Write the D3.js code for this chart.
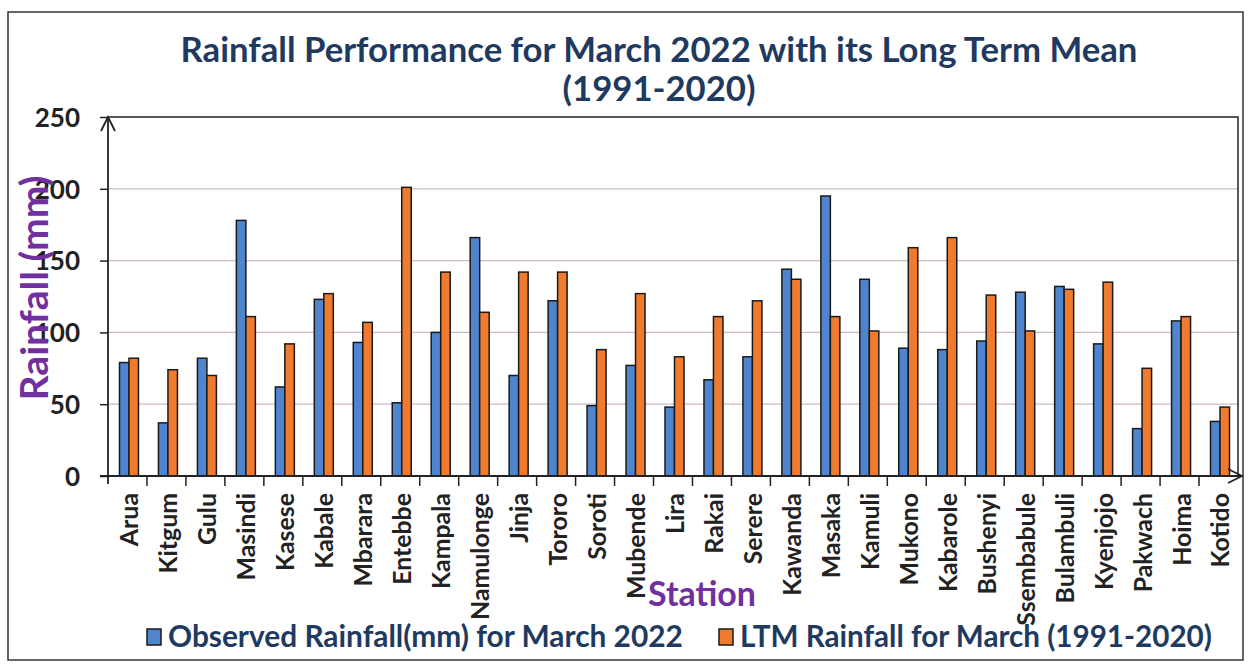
<!DOCTYPE html>
<html><head><meta charset="utf-8">
<script src="https://cdn.jsdelivr.net/npm/d3@7"></script>
<style>body{margin:0;background:#fff}svg{display:block}</style>
</head><body>
<svg id="c" width="1249" height="667"></svg>
<script>
const stations = ["Arua","Kitgum","Gulu","Masindi","Kasese","Kabale","Mbarara","Entebbe","Kampala","Namulonge","Jinja","Tororo","Soroti","Mubende","Lira","Rakai","Serere","Kawanda","Masaka","Kamuli","Mukono","Kabarole","Bushenyi","Ssembabule","Bulambuli","Kyenjojo","Pakwach","Hoima","Kotido"];
const observed = [79,37,82,178,62,123,93,51,100,166,70,122,49,77,48,67,83,144,195,137,89,88,94,128,132,92,33,108,38];
const ltm = [82,74,70,111,92,127,107,201,142,114,142,142,88,127,83,111,122,137,111,101,159,166,126,101,130,135,75,111,48];
const yTicks = [0,50,100,150,200,250];
const seriesNames = ["Observed Rainfall(mm) for March 2022","LTM Rainfall for March (1991-2020)"];
const seriesKeys = ["obs","ltm"];
const titleLines = ["Rainfall Performance for March 2022 with its Long Term Mean","(1991-2020)"];
const yTitle = "Rainfall (mm)";
const xTitle = "Station";

const colors = {obs:"#4f84cf", ltm:"#f07b2f"};
const FONT = "Lato, 'Open Sans', sans-serif";
const svg = d3.select("#c");

function fit(sel, w){
  const n = sel.node();
  let fs = parseFloat(sel.attr("font-size"));
  const L = n.getComputedTextLength();
  sel.attr("font-size", (fs*w/L).toFixed(2));
}

// outer frame
svg.append("rect").attr("x",8).attr("y",12).attr("width",1235).attr("height",648)
  .attr("fill","none").attr("stroke","#333").attr("stroke-width",1.5);

const L=108, R=1238, T=117, B=476;
const x = d3.scaleBand().domain(stations).range([L,R]);
const bw = x.bandwidth();
const gw = 19;
const xs = d3.scaleBand().domain(seriesKeys).range([0,gw]);
const y = d3.scaleLinear().domain([0,250]).range([B,T]);

// grid
svg.append("g").selectAll("line").data(yTicks.filter(d=>d>0 && d<250)).join("line")
  .attr("x1",L).attr("x2",R).attr("y1",d=>y(d)).attr("y2",d=>y(d))
  .attr("stroke","#cbb8cb").attr("stroke-width",1.2);

// plot border top/right
svg.append("path").attr("d",`M${L},${T}H${R}V${B}`).attr("fill","none").attr("stroke","#222").attr("stroke-width",1.5);

// bars
const data = stations.map((s,i)=>({s, obs:observed[i], ltm:ltm[i]}));
const g = svg.append("g");
data.forEach(d=>{
  seriesKeys.forEach(k=>{
    g.append("rect")
      .attr("x", x(d.s) + (bw-gw)/2 + 1.5 + xs(k))
      .attr("y", y(d[k]))
      .attr("width", xs.bandwidth())
      .attr("height", y(0)-y(d[k]))
      .attr("fill", colors[k]).attr("stroke","#1a1a1a").attr("stroke-width",1.5);
  });
});

// y axis
const yAxis = d3.axisLeft(y).tickValues(yTicks).tickSize(8).tickPadding(20);
const ya = svg.append("g").attr("transform",`translate(${L},0)`).call(yAxis);
ya.select(".domain").remove();
ya.selectAll(".tick line").attr("stroke","#222").attr("stroke-width",1.5);
ya.selectAll(".tick text").attr("font-family",FONT).attr("font-weight","bold")
  .attr("font-size",26).attr("fill","#222").attr("dy","0.36em");
svg.append("line").attr("x1",L).attr("x2",L).attr("y1",T).attr("y2",B+8).attr("stroke","#222").attr("stroke-width",1.8);
svg.append("path").attr("d",`M${L-7},${T+14}L${L},${T}L${L+7},${T+14}`).attr("fill","none").attr("stroke","#222").attr("stroke-width",1.8);

// x axis
const xAxis = d3.axisBottom(x).tickSize(0).tickPadding(0);
const xa = svg.append("g").attr("transform",`translate(0,${B})`).call(xAxis);
xa.select(".domain").remove();
svg.append("line").attr("x1",L-8).attr("x2",R+4).attr("y1",B).attr("y2",B).attr("stroke","#222").attr("stroke-width",1.8);
svg.append("path").attr("d",`M${R-10},${B-7}L${R+4},${B}L${R-10},${B+7}`).attr("fill","none").attr("stroke","#222").attr("stroke-width",1.8);
svg.append("g").selectAll("line").data(stations.slice(1)).join("line")
  .attr("x1",d=>x(d)).attr("x2",d=>x(d)).attr("y1",B).attr("y2",B+10)
  .attr("stroke","#222").attr("stroke-width",1.5);
xa.selectAll(".tick text")
  .attr("font-family",FONT).attr("font-weight","bold").attr("font-size",22).attr("fill","#222")
  .attr("text-anchor","end").attr("transform","translate(2,17) rotate(-90)")
  .attr("dy","0.36em").attr("y",0).attr("x",0);
{
  const nm = xa.selectAll(".tick text").filter(d=>d==="Namulonge");
  const len = nm.node().getComputedTextLength();
  const fs = 22*127/len;
  xa.selectAll(".tick text").attr("font-size",fs.toFixed(2));
}

// titles
const t1 = svg.append("text").attr("x",659).attr("y",62).attr("text-anchor","middle")
  .attr("font-family",FONT).attr("font-weight","bold").attr("font-size",28).attr("fill","#1f3a60").text(titleLines[0]);
fit(t1, 957);
const t2 = svg.append("text").attr("x",659).attr("y",101).attr("text-anchor","middle")
  .attr("font-family",FONT).attr("font-weight","bold").attr("font-size",+t1.attr("font-size")).attr("fill","#1f3a60").text(titleLines[1]);

const yt = svg.append("text").attr("transform","translate(48,288) rotate(-90)").attr("text-anchor","middle")
  .attr("font-family",FONT).attr("font-weight","bold").attr("font-size",30).attr("fill","#7030a0").text(yTitle);
fit(yt, 225);

const xt = svg.append("text").attr("x",702).attr("y",606).attr("text-anchor","middle")
  .attr("font-family",FONT).attr("font-weight","bold").attr("font-size",30).attr("fill","#7030a0").text(xTitle);
fit(xt, 108);

// legend
const legX = [147, 719];
const legW = [515, 472];
seriesKeys.forEach((k,i)=>{
  svg.append("rect").attr("x",legX[i]).attr("y",629).attr("width",14).attr("height",16)
    .attr("fill",colors[k]).attr("stroke","#1a1a1a").attr("stroke-width",1.5);
  const t = svg.append("text").attr("x",legX[i]+21).attr("y",647)
    .attr("font-family",FONT).attr("font-weight","bold").attr("font-size",26).attr("fill","#1f3a60").text(seriesNames[i]);
  fit(t, legW[i]);
});
</script>
</body></html>
